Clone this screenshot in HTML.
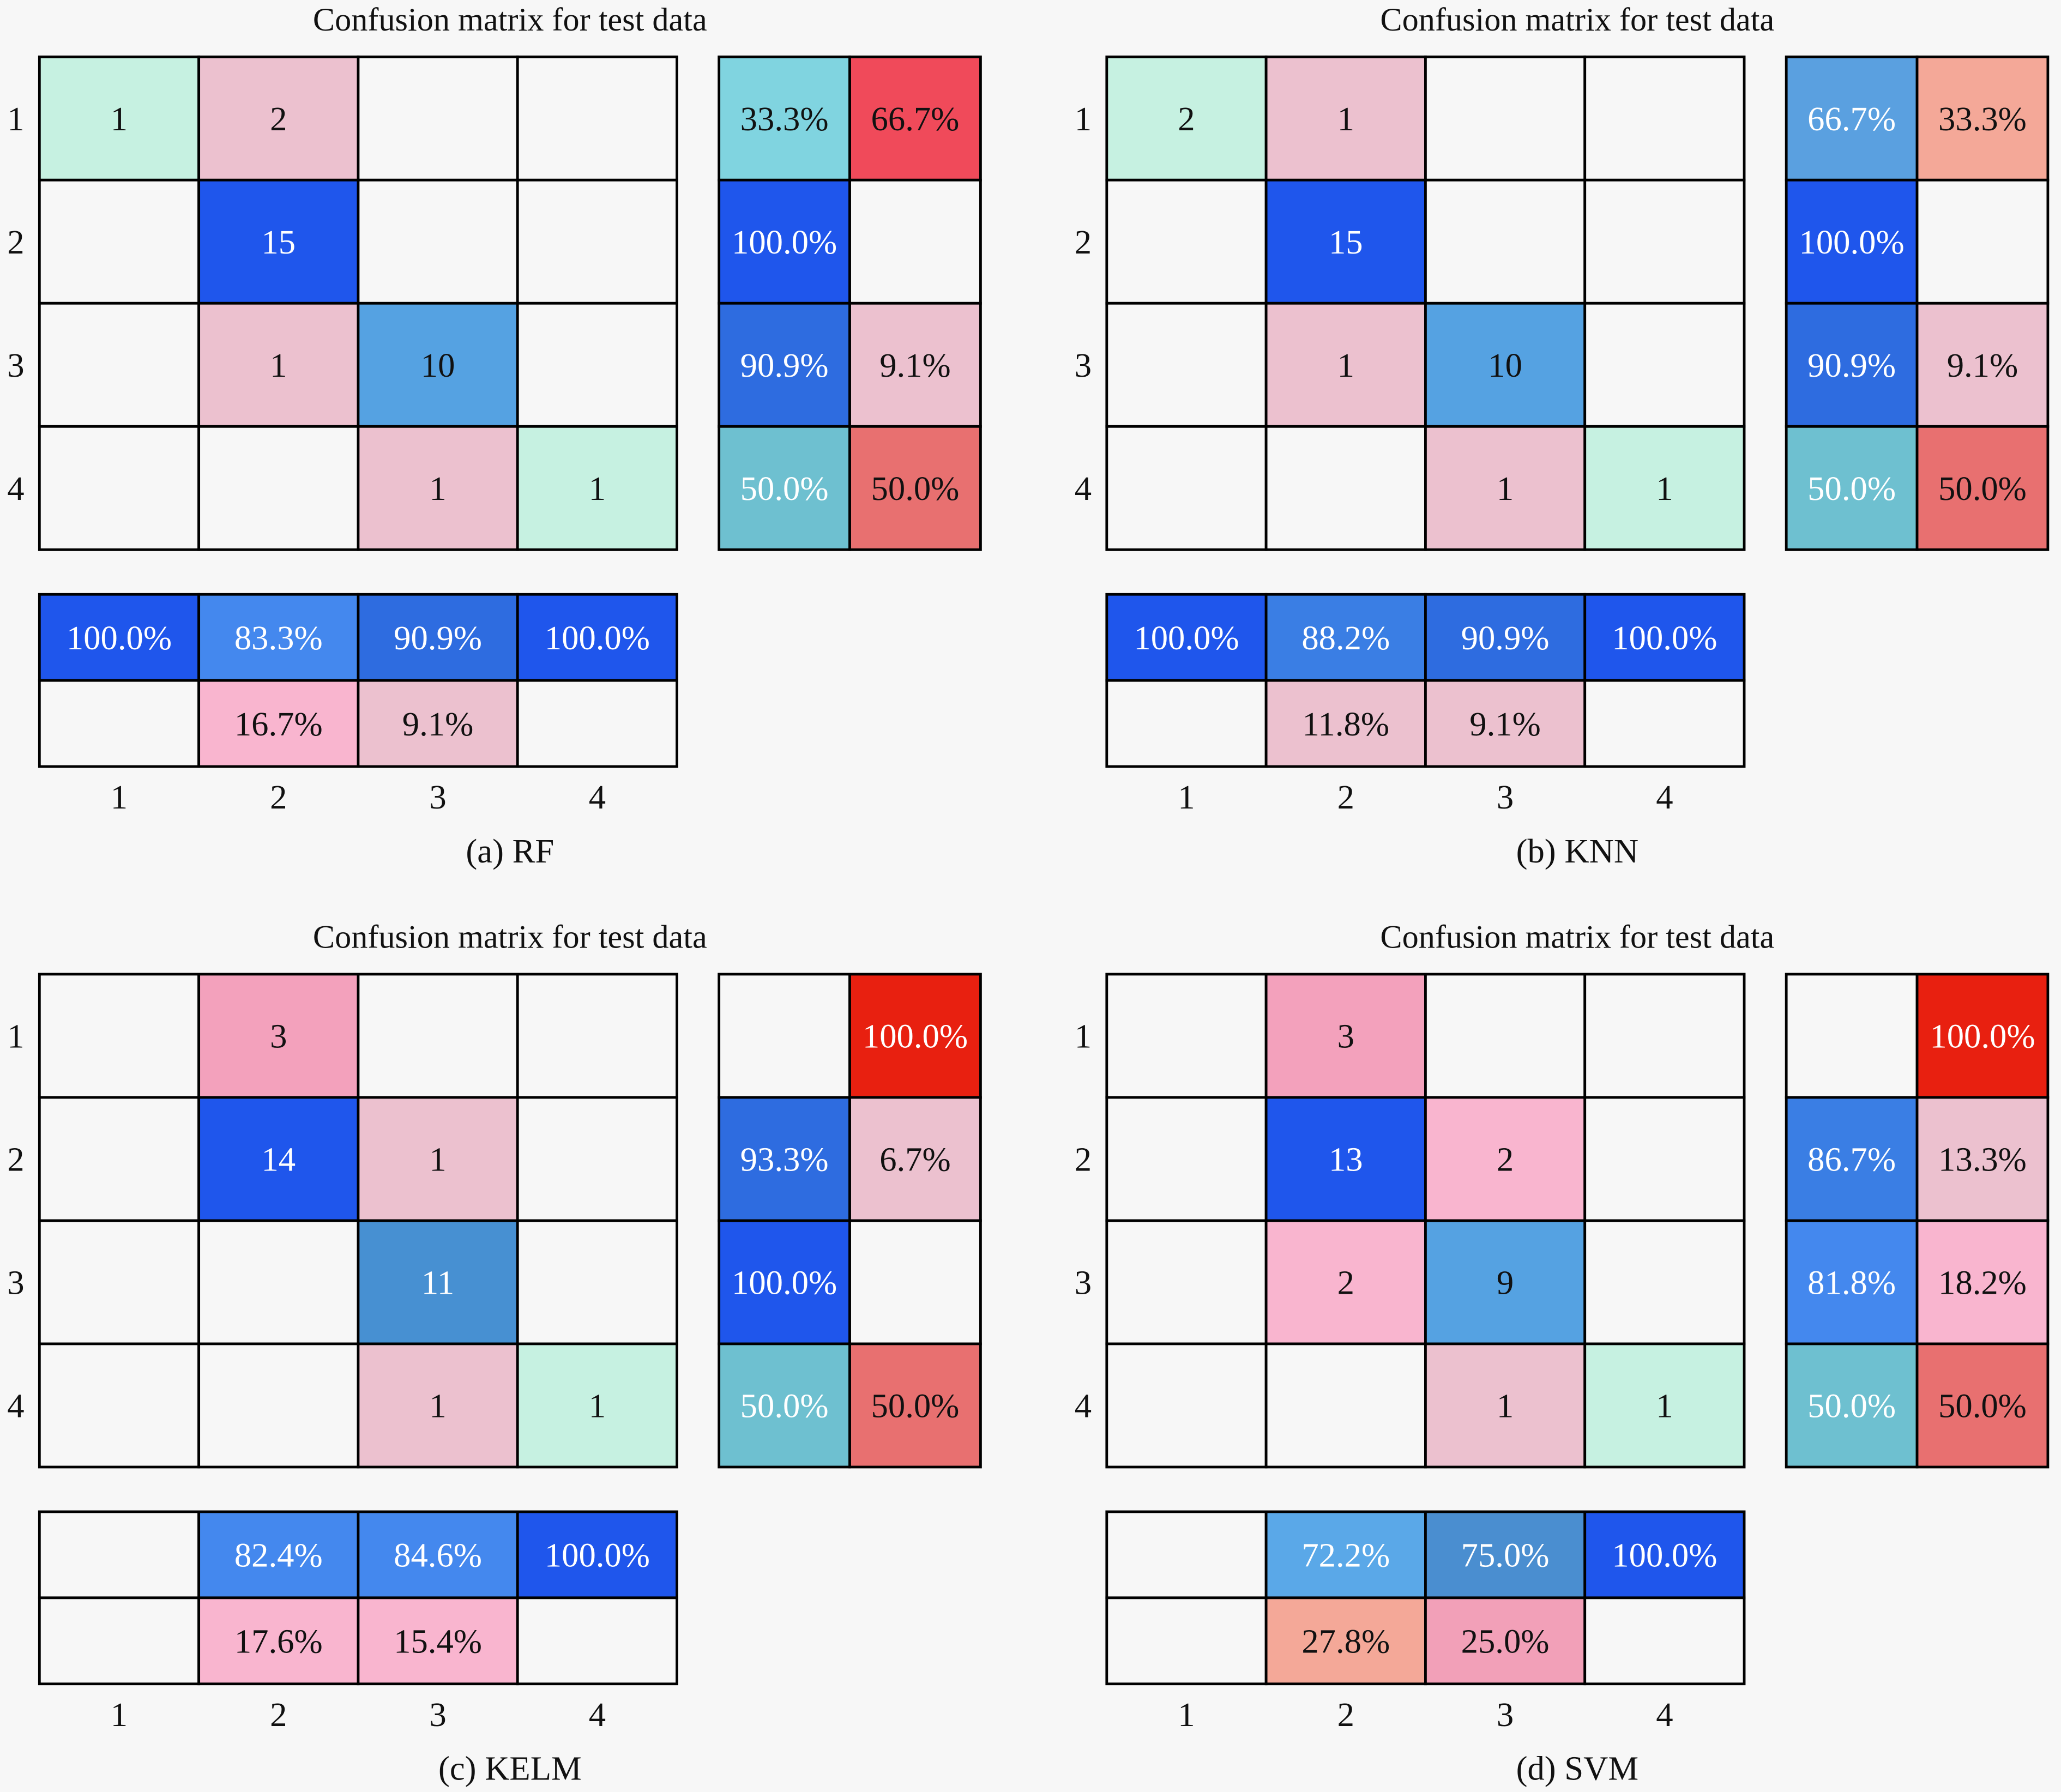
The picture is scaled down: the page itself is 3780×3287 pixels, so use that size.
<!DOCTYPE html>
<html><head><meta charset="utf-8"><style>
html,body{margin:0;padding:0;background:#f7f7f7;}
svg{display:block;font-family:"Liberation Serif",serif;}
</style></head><body>
<svg id="fig" width="3780" height="3287" viewBox="0 0 1568 1363" xmlns="http://www.w3.org/2000/svg">
<rect width="1568" height="1363" fill="#f7f7f7"/>
</svg>
<script>
const classes = [1, 2, 3, 4];
const modelNames = ["RF", "KNN", "KELM", "SVM"];
const captionLetters = ["(a)", "(b)", "(c)", "(d)"];
const rfMatrix = [[1,2,0,0],[0,15,0,0],[0,1,10,0],[0,0,1,1]];
const knnMatrix = [[2,1,0,0],[0,15,0,0],[0,1,10,0],[0,0,1,1]];
const kelmMatrix = [[0,3,0,0],[0,14,1,0],[0,0,11,0],[0,0,1,1]];
const svmMatrix = [[0,3,0,0],[0,13,2,0],[0,2,9,0],[0,0,1,1]];
const matrices = [rfMatrix, knnMatrix, kelmMatrix, svmMatrix];
const titleText = "Confusion matrix for test data";

const NS = "http://www.w3.org/2000/svg";
const svg = document.getElementById("fig");
const offsets = [[0,0],[812,0],[0,698],[812,698]];

function mk(tag, attrs, parent){const e=document.createElementNS(NS,tag);for(const k in attrs)e.setAttribute(k,attrs[k]);(parent||svg).appendChild(e);return e;}
function countColor(v, diag, rowFrac){
  if(v===0) return null;
  if(diag){ if(v<=2) return "#c6f1e1"; if(v<=10) return "#55a2e2"; if(v<=11) return "#4790d2"; return "#1f56ec"; }
  if(v>=3) return "#f3a1bc";
  if(v===2 && rowFrac<0.5) return "#f9b5cf";
  return "#ecc1cf";
}
function goodColor(p){
  if(p>=99.9) return "#1f56ec"; if(p>=90) return "#2e6ce0"; if(p>=85) return "#3a7ee4"; if(p>=80) return "#4488ee";
  if(p>=74) return "#4a8ed0"; if(p>=70) return "#5aa8e8"; if(p>=60) return "#5aa0e0"; if(p>=45) return "#6ec0d0"; return "#80d4e0";
}
function badColor(p){
  if(p>=99.9) return "#e82010"; if(p>=60) return "#f04a5a"; if(p>=45) return "#e87070"; if(p>=26) return "#f4a898";
  if(p>=20) return "#f2a0b8"; if(p>=15) return "#f9b5cf"; return "#ecc1cf";
}
function cell(g,x,y,w,h,fill,txt,white,name){
  const r=mk("rect",{x:x,y:y,width:w,height:h,fill:fill||"#f7f7f7",stroke:"#000","stroke-width":2},g);
  
  
  if(txt!==""){
    const t=mk("text",{x:x+w/2,y:y+h/2+9,"text-anchor":"middle","font-size":26,fill:white?"#ffffff":"#111"},g);
    t.textContent=txt;
    
    
  }
}
const fmt=p=>p.toFixed(1)+"%";

matrices.forEach((M,pi)=>{
  const [ox,oy]=offsets[pi];
  const g=mk("g",{});
  
  
  const x0=30+ox, y0=43+oy, cw=121.25, ch=93.75;
  const n=classes.length;
  const title=mk("text",{x:388+ox,y:23+oy,"text-anchor":"middle","font-size":25,fill:"#111"},g);
  title.textContent=titleText;
  
  
  const colSums=[];
  for(let j=0;j<n;j++){let s=0;for(let i=0;i<n;i++)s+=M[i][j];colSums.push(s);}
  for(let i=0;i<n;i++){
    const rs=M[i].reduce((a,b)=>a+b,0);
    for(let j=0;j<n;j++){
      const v=M[i][j];
      cell(g,x0+j*cw,y0+i*ch,cw,ch,countColor(v,i===j,rs?v/rs:0),v?String(v):"",v>=11,'cell-r'+(i+1)+'-c'+(j+1));
    }
  }
  const rx=547+ox, rw=99.5;
  for(let i=0;i<n;i++){
    const s=M[i].reduce((a,b)=>a+b,0);
    const good=s?M[i][i]/s*100:0, bad=s?100-good:0;
    cell(g,rx,y0+i*ch,rw,ch,s&&good>0?goodColor(good):null,s&&good>0?fmt(good):"",good>=45,'row-correct-'+(i+1));
    cell(g,rx+rw,y0+i*ch,rw,ch,s&&bad>0.05?badColor(bad):null,s&&bad>0.05?fmt(bad):"",bad>=99.9,'row-error-'+(i+1));
    const lb=mk("text",{x:12+ox,y:y0+i*ch+ch/2+9,"text-anchor":"middle","font-size":26,fill:"#111"},g);
    lb.textContent=classes[i];
    
    
  }
  const by=452+oy, bh=65.5;
  for(let j=0;j<n;j++){
    const s=colSums[j];
    const good=s?M[j][j]/s*100:0, bad=s?100-good:0;
    cell(g,x0+j*cw,by,cw,bh,s&&good>0?goodColor(good):null,s&&good>0?fmt(good):"",good>=45,'col-correct-'+(j+1));
    cell(g,x0+j*cw,by+bh,cw,bh,s&&bad>0.05?badColor(bad):null,s&&bad>0.05?fmt(bad):"",bad>=99.9,'col-error-'+(j+1));
    const lb=mk("text",{x:x0+j*cw+cw/2,y:615+oy,"text-anchor":"middle","font-size":26,fill:"#111"},g);
    lb.textContent=classes[j];
    
    
  }
  const cap=mk("text",{x:388+ox,y:656+oy,"text-anchor":"middle","font-size":26,fill:"#111"},g);
  cap.textContent=captionLetters[pi]+" "+modelNames[pi];
  
  
});
</script>
</body></html>
